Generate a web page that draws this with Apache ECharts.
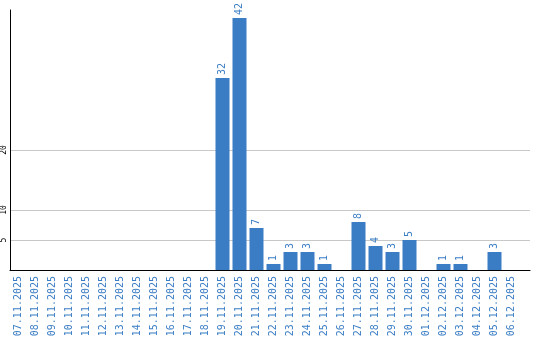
<!DOCTYPE html>
<html><head><meta charset="utf-8">
<script src="https://cdn.jsdelivr.net/npm/echarts@6/dist/echarts.min.js"></script>
<style>html,body{margin:0;padding:0;background:#fff}#c{width:540px;height:340px}</style>
</head><body><div id="c"></div>
<script>
const categories = ["07.11.2025","08.11.2025","09.11.2025","10.11.2025","11.11.2025","12.11.2025","13.11.2025","14.11.2025","15.11.2025","16.11.2025","17.11.2025","18.11.2025","19.11.2025","20.11.2025","21.11.2025","22.11.2025","23.11.2025","24.11.2025","25.11.2025","26.11.2025","27.11.2025","28.11.2025","29.11.2025","30.11.2025","01.12.2025","02.12.2025","03.12.2025","04.12.2025","05.12.2025","06.12.2025"];
const values = [0,0,0,0,0,0,0,0,0,0,0,0,32,42,7,1,3,3,1,0,8,4,3,5,0,1,1,0,3,0];
const yTicks = [5,10,20];

const blue = '#3b7dc4';
const mono = '"DejaVu Sans Mono", monospace';
const catIdx = categories.map((c,i)=>i);
const chart = echarts.init(document.getElementById('c'), null, {renderer:'canvas'});
chart.setOption({
  animation:false,
  grid:{left:10, width:520, top:10, height:260, containLabel:false},
  xAxis:{type:'value', min:-0.5, max:categories.length - 0.5 + 10/17,
    splitLine:{show:false},
    axisLine:{onZero:false, lineStyle:{color:'#000', width:1}}, axisTick:{show:false},
    axisLabel:{customValues:catIdx, rotate:90, color:blue, fontFamily:mono, fontSize:10, margin:6,
      formatter:v=>categories[Math.round(v)]}},
  yAxis:{type:'value', min:0, max:260/6,
    axisLine:{show:true, onZero:false, lineStyle:{color:'#000', width:1}},
    axisTick:{show:false, customValues:yTicks},
    splitLine:{show:true, lineStyle:{color:'#c8c8c8', width:1}},
    axisLabel:{customValues:yTicks, rotate:90, color:'#000', fontFamily:mono, fontSize:8, margin:2}},
  series:[
    {type:'bar', data:values.map((v,i)=>[i,v]), barWidth:14, itemStyle:{color:blue}, z:3,
    label:{show:true, position:'top', rotate:90, align:'left', verticalAlign:'middle', distance:3,
      color:blue, fontFamily:mono, fontSize:10,
      formatter:p=>p.value[1]?String(p.value[1]):''}}]
});
</script></body></html>
